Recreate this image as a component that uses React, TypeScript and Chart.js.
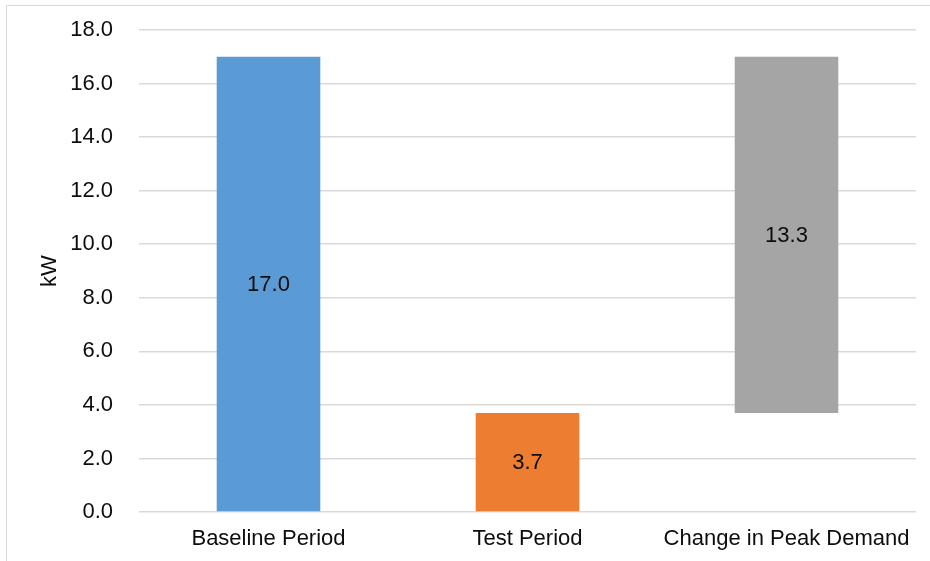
import React, { useEffect, useRef } from "react";
import { Chart, registerables } from "chart.js";

Chart.register(...registerables);

const categories = ["Baseline Period", "Test Period", "Change in Peak Demand"];
const barStarts = [0, 0, 3.7];
const barEnds = [17.0, 3.7, 17.0];
const barLabels = ["17.0", "3.7", "13.3"];
const barColors = ["#5B9BD5", "#ED7D31", "#A5A5A5"];
const yTicksMin = 0;
const yTicksMax = 18;
const yTickStep = 2;
const yAxisTitle = "kW";

const FONT = "'Liberation Sans', Arial, sans-serif";
const FSIZE = 22;

const labelPlugin = {
  id: "barLabels",
  afterDatasetsDraw(chart: any) {
    const { ctx } = chart;
    const meta = chart.getDatasetMeta(0);
    ctx.save();
    ctx.font = `${FSIZE}px ${FONT}`;
    ctx.fillStyle = "#0d0d0d";
    ctx.textAlign = "center";
    ctx.textBaseline = "middle";
    meta.data.forEach((bar: any, i: number) => {
      const cy = (bar.y + bar.base) / 2 + 1;
      ctx.fillText(barLabels[i], bar.x, cy);
    });
    ctx.restore();
  },
};

export default function App() {
  const ref = useRef<HTMLCanvasElement>(null);

  useEffect(() => {
    if (!ref.current) return;
    const chart = new Chart(ref.current, {
      type: "bar",
      data: {
        labels: categories,
        datasets: [
          {
            data: categories.map((_, i) => [barStarts[i], barEnds[i]]) as any,
            backgroundColor: barColors,
            borderWidth: 0,
            barPercentage: 0.4,
            categoryPercentage: 1,
          },
        ],
      },
      options: {
        responsive: false,
        animation: false,
        layout: { padding: { top: 30, right: 14, left: 0, bottom: 0 } },
        plugins: {
          legend: { display: false },
          tooltip: { enabled: false },
        },
        scales: {
          x: {
            grid: { display: false, drawTicks: false },
            border: { display: false },
            ticks: {
              color: "#0d0d0d",
              font: { family: FONT, size: FSIZE },
              padding: 14,
              maxRotation: 0,
              autoSkip: false,
            },
            afterFit: (scale: any) => {
              scale.height = 49;
              scale.paddingLeft = 0;
              scale.paddingRight = 0;
            },
          },
          y: {
            min: yTicksMin,
            max: yTicksMax,
            grid: { color: "#d9d9d9", lineWidth: 1.5, drawTicks: false },
            border: { display: false },
            ticks: {
              stepSize: yTickStep,
              color: "#0d0d0d",
              font: { family: FONT, size: FSIZE },
              padding: 26,
              callback: (v: any) => Number(v).toFixed(1),
            },
            title: {
              display: true,
              text: yAxisTitle,
              color: "#0d0d0d",
              font: { family: FONT, size: FSIZE },
              padding: { top: 37, bottom: 0 },
            },
            afterFit: (scale: any) => {
              scale.width = 139;
              scale.paddingTop = 0;
              scale.paddingBottom = 0;
            },
          },
        },
      },
      plugins: [labelPlugin],
    });
    return () => chart.destroy();
  }, []);

  return (
    <div
      style={{
        position: "fixed",
        left: 0,
        top: 0,
        width: 930,
        height: 561,
        background: "#ffffff",
        overflow: "hidden",
      }}
    >
      <div
        style={{
          position: "absolute",
          left: 6,
          top: 5,
          width: 940,
          height: 580,
          border: "1.5px solid #d9d9d9",
          boxSizing: "border-box",
        }}
      />
      <canvas
        ref={ref}
        width={930}
        height={561}
        style={{ position: "absolute", left: 0, top: 0, width: 930, height: 561 }}
      />
    </div>
  );
}
